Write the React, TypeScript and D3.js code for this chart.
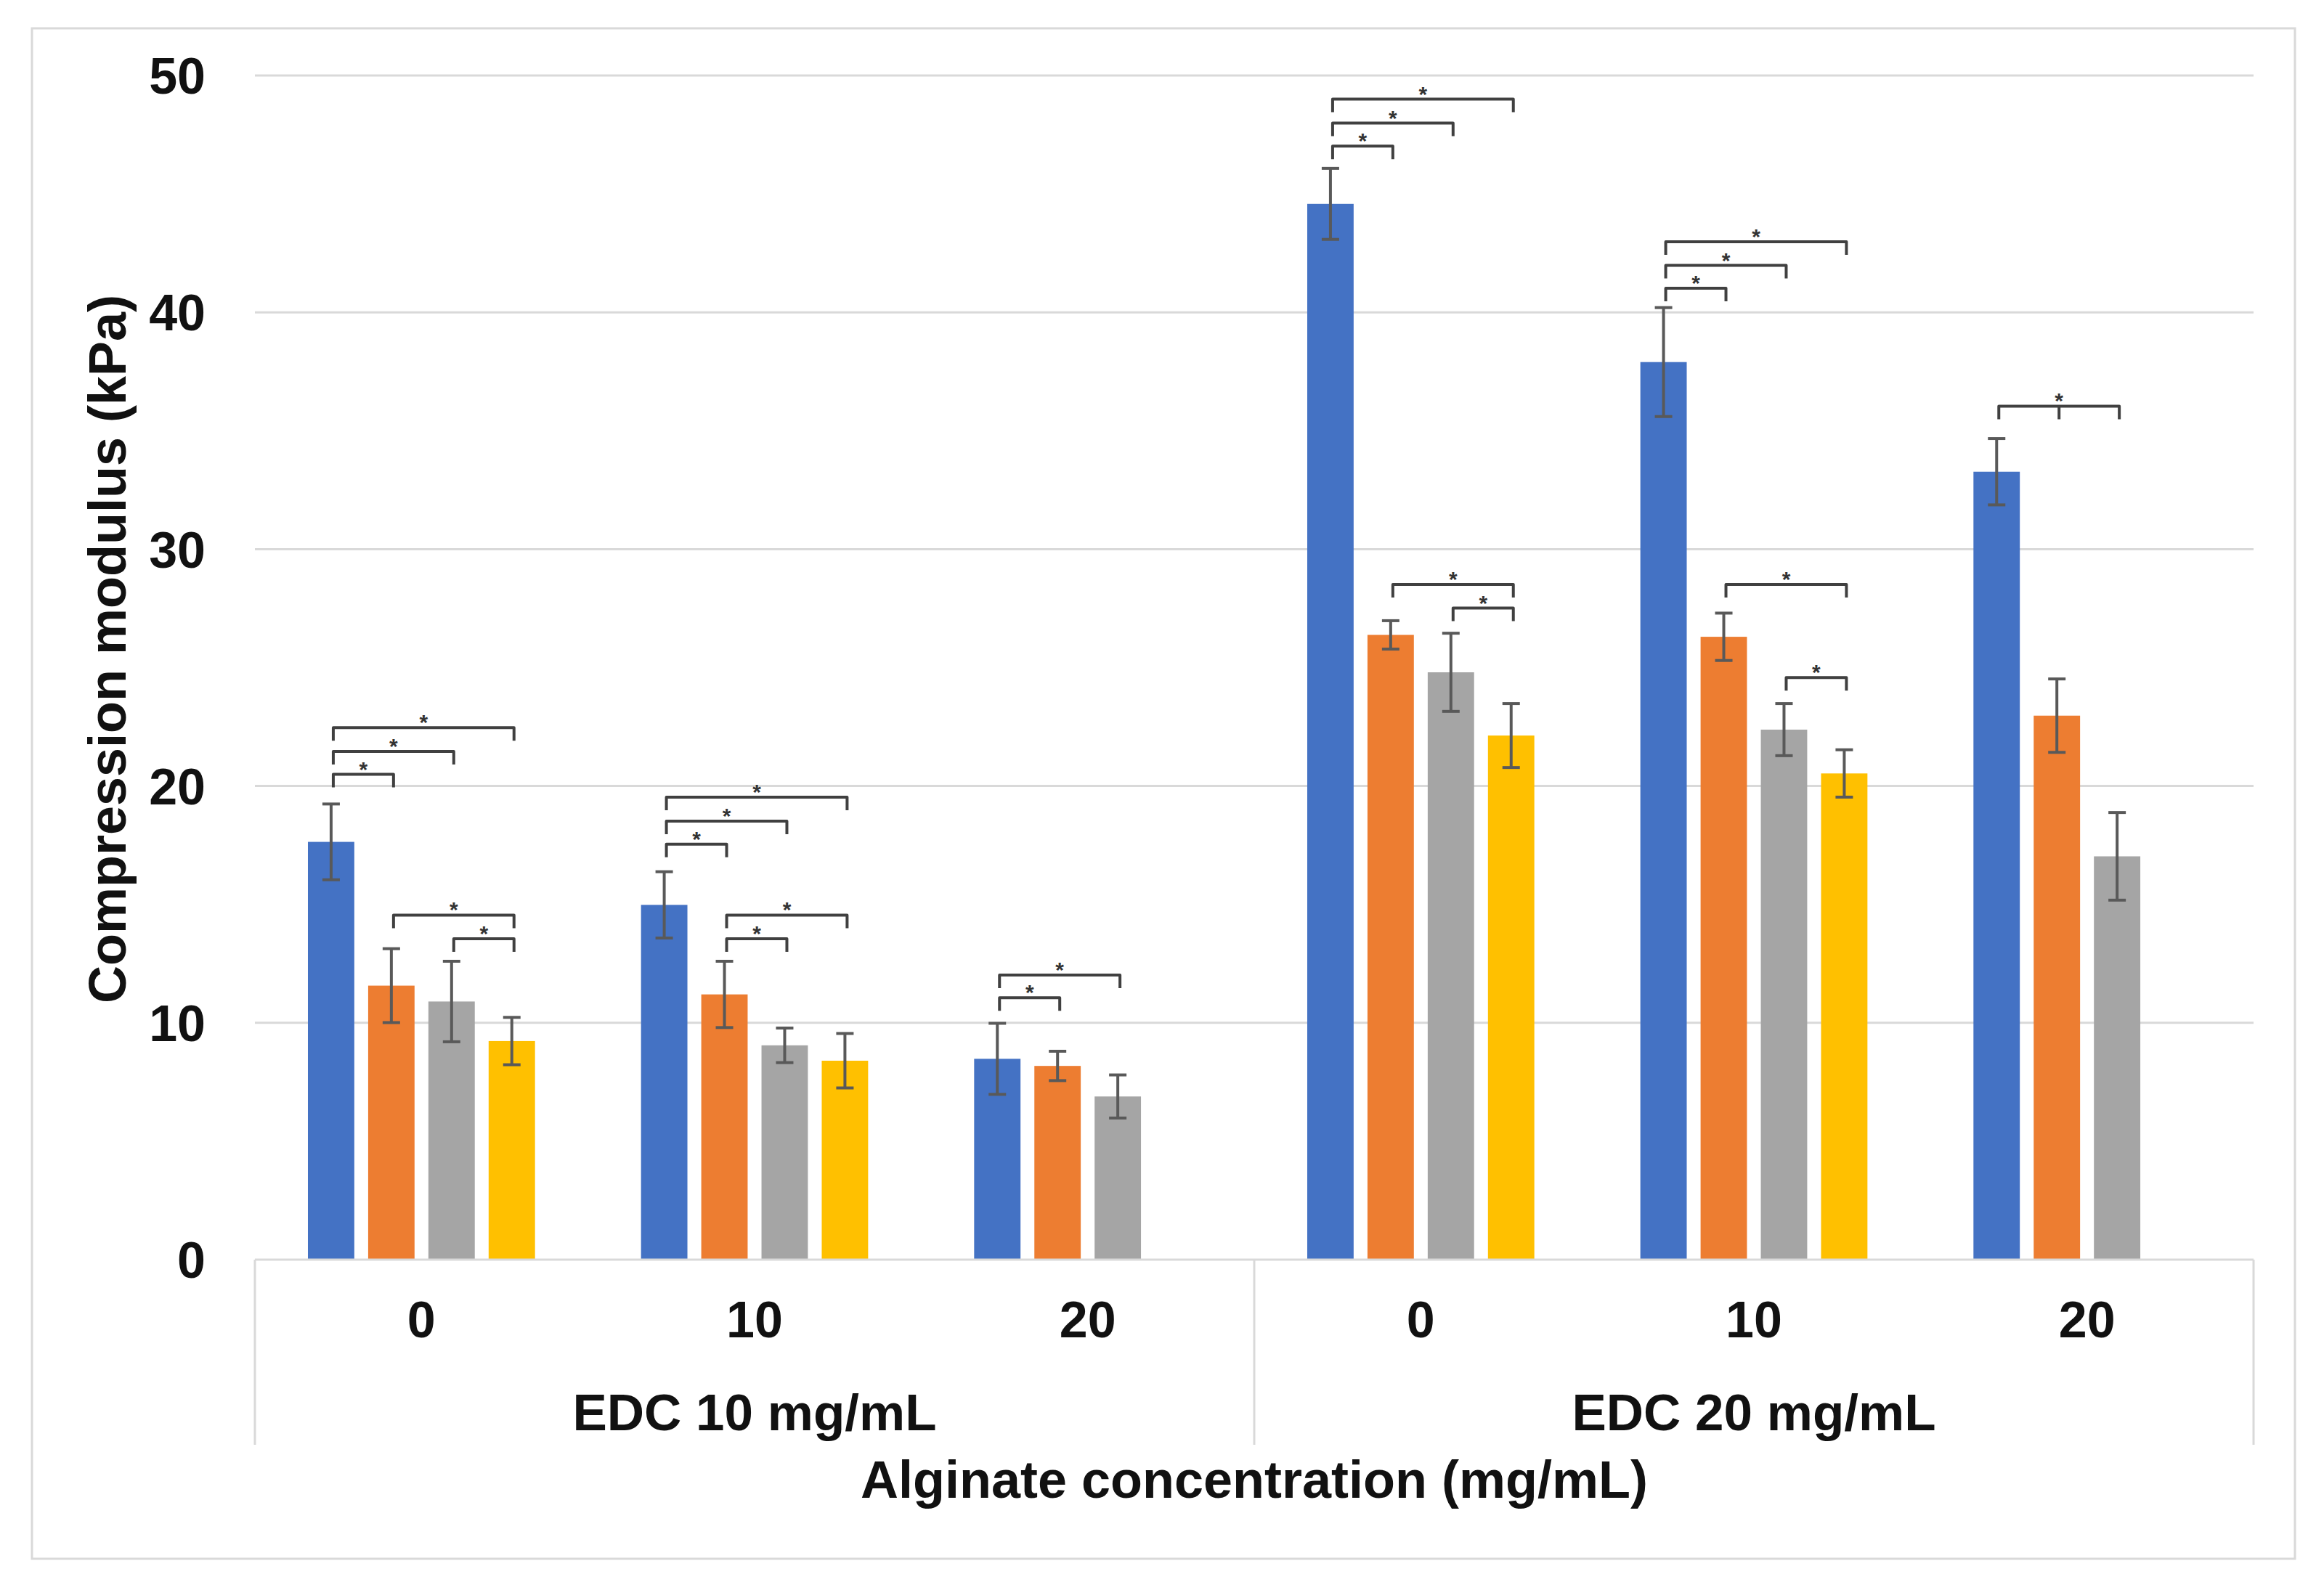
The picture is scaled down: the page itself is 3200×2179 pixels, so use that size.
import * as d3 from "d3"

// Alginate concentration per bar group, and the EDC level each group belongs to
const categories = ["0", "10", "20", "0", "10", "20"]
const groupLabels = ["EDC 10 mg/mL", "EDC 20 mg/mL"]
const groupOf = [0, 0, 0, 1, 1, 1]

const seriesNames = ["s1", "s2", "s3", "s4"]
const seriesColors = ["#4472C4", "#ED7D31", "#A5A5A5", "#FFC000"]

// mean compression modulus (kPa) per series
const s1 = [17.64, 14.98, 8.48, 44.58, 37.9, 33.27]
const s2 = [11.57, 11.2, 8.18, 26.38, 26.3, 22.97]
const s3 = [10.9, 9.05, 6.89, 24.8, 22.38, 17.03]
const s4 = [9.23, 8.4, null, 22.13, 20.53, null]

// standard deviations
const s1Err = [1.6, 1.4, 1.5, 1.5, 2.3, 1.4]
const s2Err = [1.56, 1.4, 0.62, 0.6, 1.0, 1.55]
const s3Err = [1.7, 0.73, 0.91, 1.65, 1.1, 1.85]
const s4Err = [1.0, 1.15, null, 1.35, 1.0, null]

const yTicks = [0, 10, 20, 30, 40, 50]

// significance brackets: category index, from series, to series, level (kPa), optional middle tick
const brackets = [
  { cat: 0, from: 0, to: 1, level: 20.49 },
  { cat: 0, from: 0, to: 2, level: 21.46 },
  { cat: 0, from: 0, to: 3, level: 22.46 },
  { cat: 0, from: 1, to: 3, level: 14.55 },
  { cat: 0, from: 2, to: 3, level: 13.55 },
  { cat: 1, from: 0, to: 1, level: 17.54 },
  { cat: 1, from: 0, to: 2, level: 18.52 },
  { cat: 1, from: 0, to: 3, level: 19.53 },
  { cat: 1, from: 1, to: 3, level: 14.55 },
  { cat: 1, from: 1, to: 2, level: 13.55 },
  { cat: 2, from: 0, to: 1, level: 11.06 },
  { cat: 2, from: 0, to: 2, level: 12.02 },
  { cat: 3, from: 0, to: 1, level: 47.02 },
  { cat: 3, from: 0, to: 2, level: 47.99 },
  { cat: 3, from: 0, to: 3, level: 49.0 },
  { cat: 3, from: 1, to: 3, level: 28.51 },
  { cat: 3, from: 2, to: 3, level: 27.51 },
  { cat: 4, from: 0, to: 1, level: 41.02 },
  { cat: 4, from: 0, to: 2, level: 41.98 },
  { cat: 4, from: 0, to: 3, level: 42.98 },
  { cat: 4, from: 1, to: 3, level: 28.51 },
  { cat: 4, from: 2, to: 3, level: 24.58 },
  { cat: 5, from: 0, to: 2, level: 36.04, mid: 1 },
]

const W = 3200
const H = 2179
const left = 351
const right = 3103
const top = 104
const bottom = 1735
const font = "'Liberation Sans', Arial, sans-serif"
const lineGray = "#d9d9d9"

export default function App() {
  const values = [s1, s2, s3, s4]
  const errors = [s1Err, s2Err, s3Err, s4Err]
  const idx = categories.map((_, i) => i)

  const x0 = d3.scaleBand<number>().domain(idx).range([left, right]).padding(0)
  const x1 = d3
    .scaleBand<number>()
    .domain(seriesNames.map((_, i) => i))
    .range([0, x0.bandwidth()])
    .paddingInner(0.23)
    .paddingOuter(0.88)
  const y = d3.scaleLinear().domain([0, 50]).range([bottom, top])

  const cx = (c: number, s: number) => (x0(c) as number) + (x1(s) as number) + x1.bandwidth() / 2
  const hook = 18
  const cap = 12

  // group separators along the category axis
  const groupEdges = [left, (x0(3) as number), right]

  return (
    <div style={{ position: "absolute", left: 0, top: 0 }}>
      <svg width={W} height={H} style={{ display: "block", background: "#fff" }}>
        <rect x={44} y={39} width={3116} height={2108} fill="#fff" stroke={lineGray} strokeWidth={3} />

        {/* gridlines */}
        {yTicks.slice(1).map((t) => (
          <line key={t} x1={left} x2={right} y1={y(t)} y2={y(t)} stroke={lineGray} strokeWidth={3} />
        ))}

        {/* y tick labels */}
        {yTicks.map((t) => (
          <text
            key={t}
            x={283}
            y={y(t)}
            dy="0.36em"
            textAnchor="end"
            fontFamily={font}
            fontWeight="bold"
            fontSize={70}
            fill="#111"
          >
            {t}
          </text>
        ))}

        {/* bars */}
        {values.map((vals, s) =>
          vals.map((v, c) =>
            v == null ? null : (
              <rect
                key={`b${s}-${c}`}
                x={(x0(c) as number) + (x1(s) as number)}
                y={y(v)}
                width={x1.bandwidth()}
                height={y(0) - y(v)}
                fill={seriesColors[s]}
              />
            )
          )
        )}

        {/* error bars */}
        {values.map((vals, s) =>
          vals.map((v, c) => {
            const e = errors[s][c]
            if (v == null || e == null) return null
            const x = cx(c, s)
            return (
              <g key={`e${s}-${c}`} stroke="#595959" strokeWidth={4}>
                <line x1={x} x2={x} y1={y(v + e)} y2={y(v - e)} />
                <line x1={x - cap} x2={x + cap} y1={y(v + e)} y2={y(v + e)} />
                <line x1={x - cap} x2={x + cap} y1={y(v - e)} y2={y(v - e)} />
              </g>
            )
          })
        )}

        {/* significance brackets */}
        {brackets.map((b, i) => {
          const xa = cx(b.cat, b.from) + 3
          const xb = cx(b.cat, b.to) + 3
          const yl = y(b.level)
          let d = `M${xa},${yl + hook}L${xa},${yl}L${xb},${yl}L${xb},${yl + hook}`
          if (b.mid != null) {
            const xm = cx(b.cat, b.mid) + 3
            d += `M${xm},${yl}L${xm},${yl + hook}`
          }
          return (
            <g key={`k${i}`}>
              <path d={d} fill="none" stroke="#404040" strokeWidth={4} strokeLinejoin="round" />
              <text
                x={(xa + xb) / 2}
                y={yl + 3}
                textAnchor="middle"
                fontFamily={font}
                fontWeight="bold"
                fontSize={30}
                fill="#333"
              >
                *
              </text>
            </g>
          )
        })}

        {/* category axis */}
        <line x1={left} x2={right} y1={bottom} y2={bottom} stroke={lineGray} strokeWidth={3} />
        {groupEdges.map((gx, i) => (
          <line key={`g${i}`} x1={gx} x2={gx} y1={bottom} y2={1990} stroke={lineGray} strokeWidth={3} />
        ))}
        {categories.map((c, i) => (
          <text
            key={`c${i}`}
            x={(x0(i) as number) + x0.bandwidth() / 2}
            y={1842}
            textAnchor="middle"
            fontFamily={font}
            fontWeight="bold"
            fontSize={70}
            fill="#111"
          >
            {c}
          </text>
        ))}
        {groupLabels.map((g, gi) => {
          const members = idx.filter((i) => groupOf[i] === gi)
          const gx0 = x0(members[0]) as number
          const gx1 = (x0(members[members.length - 1]) as number) + x0.bandwidth()
          return (
            <text
              key={g}
              x={(gx0 + gx1) / 2}
              y={1970}
              textAnchor="middle"
              fontFamily={font}
              fontWeight="bold"
              fontSize={71}
              fill="#111"
            >
              {g}
            </text>
          )
        })}

        {/* axis titles */}
        <text
          x={(left + right) / 2}
          y={2063}
          textAnchor="middle"
          fontFamily={font}
          fontWeight="bold"
          fontSize={72}
          fill="#111"
        >
          Alginate concentration (mg/mL)
        </text>
        <text
          transform="translate(173,894) rotate(-90)"
          textAnchor="middle"
          fontFamily={font}
          fontWeight="bold"
          fontSize={72}
          fill="#111"
        >
          Compression modulus (kPa)
        </text>
      </svg>
    </div>
  )
}
